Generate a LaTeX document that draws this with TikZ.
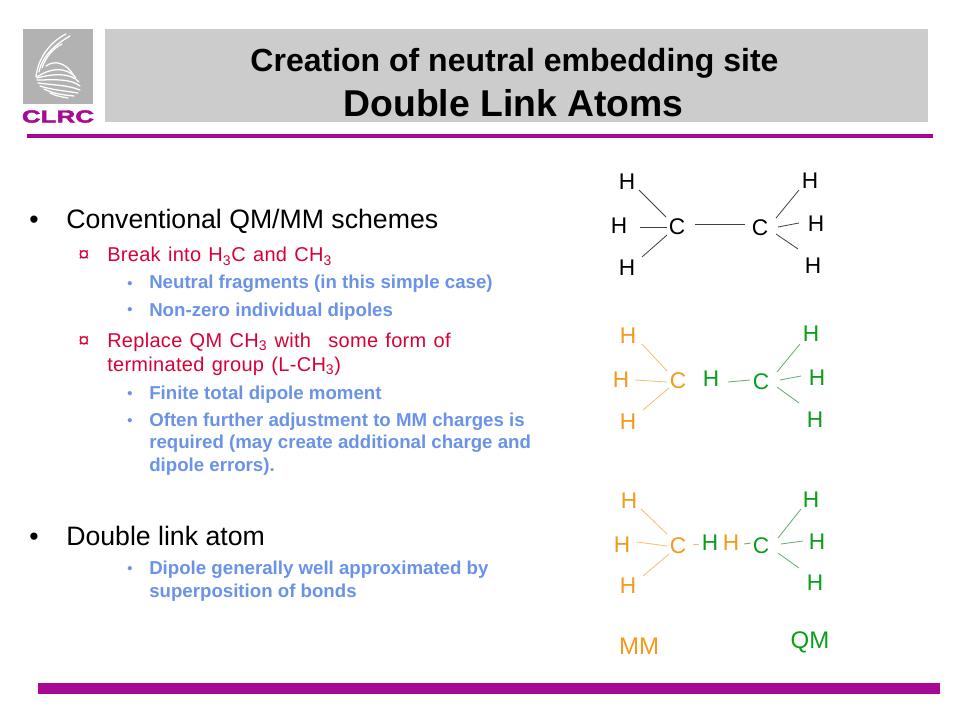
\documentclass[tikz,border=0pt]{standalone}
\usepackage{fontspec}
\setmainfont{Liberation Sans}
\definecolor{purp}{HTML}{A60A94}
\definecolor{titlegray}{HTML}{CCCCCC}
\definecolor{logogray}{HTML}{B2B2B2}
\definecolor{orng}{HTML}{F39A1E}
\definecolor{orngl}{HTML}{F5BE6E}
\definecolor{grn}{HTML}{0B9E1A}
\definecolor{grnl}{HTML}{5FAF68}
\definecolor{redt}{HTML}{D9003A}
\definecolor{bluet}{HTML}{6A93E8}
\newcommand{\fsz}[1]{\fontsize{#1}{#1}\selectfont}
\newcommand{\bond}[7][black!75]{\draw[bondline,draw=#1] ([shift={(#3)}]#2.center) -- ([shift={(#5)}]#4.center);}
\newfontfamily\spaced[LetterSpace=1.5,WordSpace=1.25]{Liberation Sans}
\tikzset{
  x=0.75pt,y=-0.75pt,
  bondline/.style={line width=0.6pt},
  atom/.style={inner sep=0pt,font=\fsz{17}},
  lone/.style={anchor=base west,inner sep=0pt},
  lvlone/.style={lone,font=\fsz{20}},
  lvltwo/.style={lone,font=\spaced\fsz{15},text=redt},
  lvlthree/.style={lone,font=\fsz{14}\bfseries,text=bluet},
  bul/.style={lone,font=\fsz{11}\bfseries,text=bluet},
  bar/.style={fill=purp,draw=none},
  label/.style={inner sep=0pt,font=\fsz{18}},
}
\begin{document}
\begin{tikzpicture}
\useasboundingbox (0,0) rectangle (960,720);
\fill[white] (0,0) rectangle (960,720);
% logo
\fill[logogray] (23,29) rectangle (93,104);
\begin{scope}[draw=white,line width=0.95pt,line cap=round]
\draw (66,34) .. controls (50,42) and (38,58) .. (36,77);
\draw (70,36) .. controls (56,44) and (42,56) .. (39,72);
\draw (62,44) .. controls (54,48) and (46,56) .. (42,68);
\draw (46,66) .. controls (54,60) and (66,62) .. (74,76);
\draw (37,77) .. controls (50,68) and (66,66) .. (76,78);
\draw (37,78) .. controls (52,74) and (70,72) .. (79,82);
\draw (37,80) .. controls (52,80) and (70,78) .. (80,86);
\draw (38,83) .. controls (52,85) and (68,85) .. (80,90);
\draw (40,86) .. controls (52,90) and (66,91) .. (78,93);
\draw (44,89) .. controls (54,94) and (64,95) .. (74,96);
\draw (50,93) .. controls (56,96) and (62,97) .. (68,98);
\end{scope}
\node[inner sep=0pt,text=purp] (clrc) at (58,116.5) {\fsz{13}\bfseries\addfontfeature{FakeStretch=1.5,FakeBold=2.5}CLRC};
% header
\fill[titlegray] (105,29) rectangle (928,122);
\node[inner sep=0pt,anchor=base] (t1) at (514.5,72) {\fsz{24}\bfseries Creation of neutral embedding site};
\node[inner sep=0pt,anchor=base] (t2) at (513.5,116.5) {\fsz{28}\bfseries Double Link Atoms};
\fill[bar] (27,134) rectangle (933,138.5);
\fill[bar] (38,683) rectangle (940,694);
% left text
\node[lvlone] (b1) at (29,229) {•};
\node[lvlone] (l1) at (66,229) {Conventional QM/MM schemes};
\node[lvltwo] (b2) at (78,262) {¤};
\node[lvltwo] (l2) at (107,262) {Break into H\textsubscript{3}C and CH\textsubscript{3}};
\node[bul] (b3) at (127,288) {•};
\node[lvlthree] (l3) at (149,289) {Neutral fragments (in this simple case)};
\node[bul] (b4) at (127,315) {•};
\node[lvlthree] (l4) at (149,316) {Non-zero individual dipoles};
\node[lvltwo] (b5) at (78,347) {¤};
\node[lvltwo] (l5) at (107,347) {Replace QM CH\textsubscript{3} with\ \ \kern2pt some form of};
\node[lvltwo] (l5b) at (107,371) {terminated group (L-CH\textsubscript{3})};
\node[bul] (b6) at (127,398) {•};
\node[lvlthree] (l6) at (149,399) {Finite total dipole moment};
\node[bul] (b7) at (127,425) {•};
\node[lvlthree] (l7) at (149,426) {Often further adjustment to MM charges is};
\node[lvlthree] (l7b) at (149,448) {required (may create additional charge and};
\node[lvlthree] (l7c) at (149,471) {dipole errors).};
\node[lvlone] (b8) at (29,545) {•};
\node[lvlone] (l8) at (66,545) {Double link atom};
\node[bul] (b9) at (127,573) {•};
\node[lvlthree] (l9) at (149,574) {Dipole generally well approximated by};
\node[lvlthree] (l9b) at (149,597) {superposition of bonds};
% molecule 1
\begin{scope}[every node/.style={atom}]
\node (ac) at (677,227) {C};
\node (ah1) at (627,182) {H};
\node (ah2) at (619,226) {H};
\node (ah3) at (627,268) {H};
\node (ad) at (760,228) {C};
\node (ah4) at (810,181) {H};
\node (ah5) at (816,224) {H};
\node (ah6) at (813,266) {H};
\end{scope}
\bond{ah1}{12,8}{ac}{-11,-10}{}{}
\bond{ah2}{21,1}{ac}{-10,0}{}{}
\bond{ah3}{15,-11}{ac}{-10,8}{}{}
\bond{ac}{18,-3}{ad}{-15,-4}{}{}
\bond{ad}{16,-10}{ah4}{-11,9}{}{}
\bond{ad}{18,-1}{ah5}{-17,-1}{}{}
\bond{ad}{16,6}{ah6}{-15,-17}{}{}
% molecule 2
\begin{scope}[every node/.style={atom}]
\node[text=orng] (bc) at (678,381) {C};
\node[text=orng] (bh1) at (628,336) {H};
\node[text=orng] (bh2) at (621,380) {H};
\node[text=orng] (bh3) at (628,422) {H};
\node[text=grn] (bl) at (711,379) {H};
\node[text=grn] (bd) at (761,382) {C};
\node[text=grn] (bh4) at (811,334) {H};
\node[text=grn] (bh5) at (817,378) {H};
\node[text=grn] (bh6) at (815,420) {H};
\end{scope}
\bond[orngl]{bh1}{14,8}{bc}{-11,-10}{}{}
\bond[orngl]{bh2}{14,0}{bc}{-11,1}{}{}
\bond[orngl]{bh3}{15,-12}{bc}{-9,7}{}{}
\bond[grnl]{bl}{17,3}{bd}{-11,-2}{}{}
\bond[grnl]{bd}{16,-10}{bh4}{-11,10}{}{}
\bond[grnl]{bd}{19,-2}{bh5}{-16,-2}{}{}
\bond[grnl]{bd}{16,5}{bh6}{-16,-17}{}{}
% molecule 3
\begin{scope}[every node/.style={atom}]
\node[text=orng] (cc) at (678,546) {C};
\node[text=orng] (ch1) at (629,501) {H};
\node[text=orng] (ch2) at (622,545) {H};
\node[text=orng] (ch3) at (628,586) {H};
\node[text=grn] (cl) at (710,543) {H};
\node[text=orng] (cm) at (731,543) {H};
\node[text=grn] (cd) at (761,546) {C};
\node[text=grn] (ch4) at (811,500) {H};
\node[text=grn] (ch5) at (817,542) {H};
\node[text=grn] (ch6) at (815,583) {H};
\end{scope}
\node[label,text=orng] (mm) at (639,646) {MM};
\node[label,text=grn] (qm) at (810,642) {QM};
\bond[orngl]{ch1}{12,8}{cc}{-11,-12}{}{}
\bond[orngl]{ch2}{15,-3}{cc}{-11,0}{}{}
\bond[orngl]{ch3}{15,-10}{cc}{-9,8}{}{}
\bond[orngl]{cc}{15,-2}{cl}{-11,1}{}{}
\bond[grnl]{cm}{13,1}{cd}{-10,-3}{}{}
\bond[grnl]{cd}{17,-8}{ch4}{-10,9}{}{}
\bond[grnl]{cd}{20,-2}{ch5}{-14,-1}{}{}
\bond[grnl]{cd}{17,7}{ch6}{-16,-15}{}{}
\end{tikzpicture}
\end{document}
